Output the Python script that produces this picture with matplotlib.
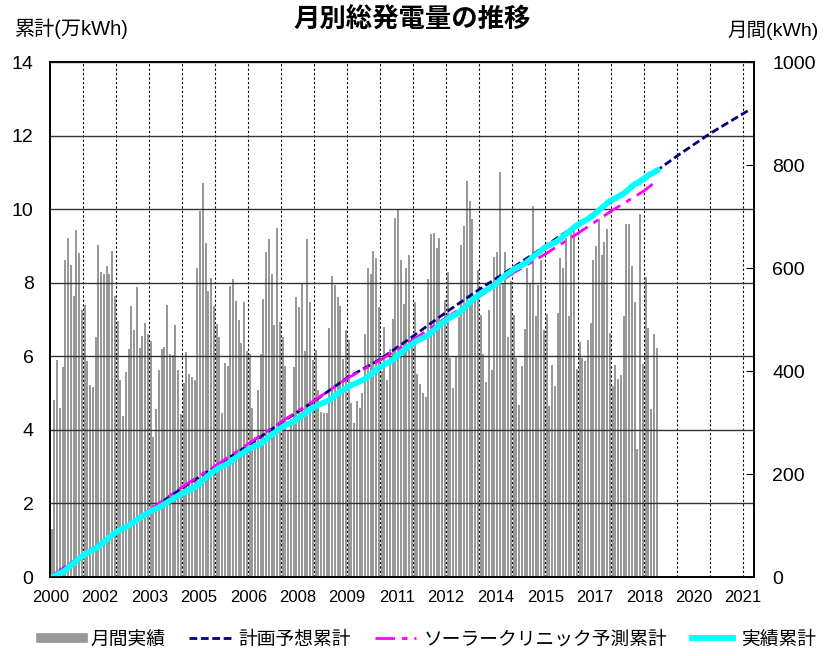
import numpy as np
import matplotlib
matplotlib.use("Agg")
import matplotlib.pyplot as plt
from matplotlib.lines import Line2D

plt.rcParams['font.family'] = ['Liberation Sans', 'Noto Sans CJK JP']

# monthly generation (kWh), one value per month from the first month
monthly_kwh = [
    93, 344, 421, 328, 408, 616, 659, 606, 545, 674, 629, 518,
    529, 419, 373, 369, 466, 645, 593, 589, 604, 589, 634, 546,
    497, 383, 312, 398, 442, 526, 479, 564, 444, 468, 493, 471,
    459, 272, 326, 402, 442, 447, 529, 434, 431, 489, 402, 316,
    376, 436, 394, 389, 382, 600, 711, 765, 649, 556, 581, 526,
    491, 466, 318, 416, 409, 565, 579, 536, 499, 454, 534, 439,
    434, 328, 271, 363, 433, 539, 631, 656, 588, 489, 677, 496,
    466, 409, 284, 307, 408, 543, 525, 571, 439, 656, 534, 421,
    441, 363, 321, 319, 318, 484, 585, 567, 543, 526, 423, 479,
    460, 337, 300, 341, 328, 357, 471, 600, 588, 634, 619, 524,
    400, 486, 382, 443, 501, 697, 714, 616, 531, 600, 626, 464,
    534, 394, 374, 357, 350, 579, 666, 669, 639, 658, 500, 537,
    593, 426, 368, 429, 504, 645, 682, 769, 731, 696, 536, 596,
    509, 433, 378, 518, 402, 621, 632, 787, 571, 632, 466, 575,
    509, 426, 334, 410, 481, 601, 571, 721, 507, 567, 616, 479,
    511, 332, 412, 371, 512, 619, 600, 659, 506, 671, 677, 404,
    457, 426, 419, 461, 493, 616, 643, 695, 625, 650, 676, 474,
    371, 412, 384, 393, 506, 686, 686, 604, 534, 249, 705, 414,
    583, 484, 326, 472, 445,
]

# planned cumulative (万kWh) read at month positions
plan_months = [0, 12, 24, 36, 48, 60, 72, 84, 96, 108, 120, 132, 144,
               156, 168, 180, 192, 204, 216, 228, 240, 254]
plan_cum = [0.0, 0.6, 1.2, 1.8, 2.42, 3.0, 3.58, 4.2, 4.78, 5.42, 5.92, 6.55,
            7.2, 7.82, 8.4, 9.0, 9.6, 10.2, 10.8, 11.45, 12.06, 12.69]

# solar clinic forecast cumulative (万kWh)
clinic_months = [0, 12, 24, 36, 48, 60, 72, 84, 96, 108, 120, 132, 144,
                 156, 168, 180, 192, 204, 216, 220]
clinic_cum = [0.0, 0.6, 1.2, 1.82, 2.45, 3.02, 3.62, 4.22, 4.8, 5.4, 5.9, 6.45,
              7.05, 7.62, 8.25, 8.78, 9.35, 9.95, 10.5, 10.74]

year_labels = ['2000', '2002', '2003', '2005', '2006', '2008', '2009', '2011',
               '2012', '2014', '2015', '2017', '2018', '2020', '2021']

monthly = np.array(monthly_kwh)
months = np.arange(len(monthly))
actual_cum = np.concatenate([[0], np.cumsum(monthly)]) / 10000.0
actual_x = np.arange(len(actual_cum))

fig = plt.figure(figsize=(8.24, 6.56), dpi=100)
ax = fig.add_axes([0.061, 0.1204, 0.8543, 0.785])
ax2 = ax.twinx()

ax2.bar(months + 0.5, monthly, width=0.7, color='#999999', linewidth=0)
ax.set_zorder(ax2.get_zorder() + 1)
ax.patch.set_visible(False)

ax.plot(plan_months, plan_cum, color='#000080', lw=2.0, dashes=(2.8, 1.3))
ax.plot(clinic_months, clinic_cum, color='#ff00ff', lw=2.0, dashes=(7, 2.5, 2, 2.5))
ax.plot(actual_x, actual_cum, color='#00ffff', lw=4.2, solid_capstyle='round')

ax.set_xlim(0, 256)
ax.set_ylim(0, 14)
ax2.set_ylim(0, 1000)
ax.set_yticks(range(0, 15, 2))
ax2.set_yticks(range(0, 1001, 200))
ax.set_xticks(range(0, 253, 18))
ax.set_xticklabels(year_labels)
ax.set_xticks(range(12, 253, 12), minor=True)
ax.xaxis.remove_overlapping_locs = False

ax.grid(which='minor', axis='x', color='black', linestyle=(0, (2, 2)), linewidth=0.8)
ax.grid(which='major', axis='x', visible=False)
ax.grid(which='major', axis='y', color='#333333', linewidth=1.0)
ax.set_axisbelow(True)

ax.tick_params(axis='x', which='both', length=0, pad=9, labelsize=12)
ax.tick_params(axis='y', direction='in', length=0, pad=12, labelsize=14)
ax2.tick_params(axis='y', direction='in', length=6, pad=13, labelsize=14)

for a in (ax, ax2):
    for s in a.spines.values():
        s.set_color('black')
        s.set_linewidth(1.2)

fig.text(0.5, 0.969, '月別総発電量の推移', ha='center', va='center',
         fontsize=19, fontweight='bold')
fig.text(0.018, 0.956, '累計(万kWh)', ha='left', va='center', fontsize=14.5)
fig.text(0.993, 0.954, '月間(kWh)', ha='right', va='center', fontsize=14)

handles = [
    Line2D([], [], color='#999999', lw=7),
    Line2D([], [], color='#000080', lw=2.0, dashes=(2.8, 1.3)),
    Line2D([], [], color='#ff00ff', lw=2.0, dashes=(7, 2.5, 2, 2.5)),
    Line2D([], [], color='#00ffff', lw=4.2),
]
labels = ['月間実績', '計画予想累計', 'ソーラークリニック予測累計', '実績累計']
fig.legend(handles, labels, loc='center', bbox_to_anchor=(0.52, 0.024), ncol=4,
           frameon=False, fontsize=13.5, handlelength=2.2, handletextpad=0.4,
           columnspacing=1.3)

fig.savefig('out.png', dpi=100)
